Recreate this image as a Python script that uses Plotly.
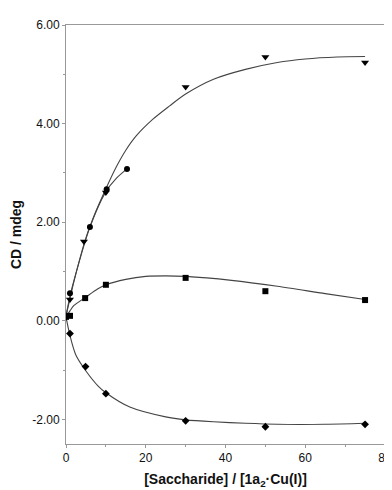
import plotly.graph_objects as go

# Measured points
tri_x = [0, 1, 4.5, 10, 30, 50, 75]
tri_y = [0.1, 0.43, 1.61, 2.6, 4.74, 5.35, 5.24]
cir_x = [0, 1, 6, 10.2, 15.3]
cir_y = [0.1, 0.56, 1.9, 2.67, 3.08]
sq_x = [0, 1, 4.8, 10, 30, 50, 75]
sq_y = [0.08, 0.1, 0.46, 0.73, 0.87, 0.6, 0.42]
dia_x = [0, 1, 4.9, 10, 30, 50, 75]
dia_y = [0.08, -0.26, -0.93, -1.48, -2.03, -2.15, -2.1]

# Fitted curves
tri_fit_x = [0, 1, 2, 5, 7.5, 10, 12.6, 15, 17.6, 21.8, 26, 30, 37, 45, 53, 60, 68, 75]
tri_fit_y = [0.1, 0.45, 0.8, 1.68, 2.22, 2.68, 3.12, 3.46, 3.75, 4.09, 4.36, 4.6, 4.9, 5.1, 5.24, 5.31, 5.35, 5.36]
cir_fit_x = [0, 1, 2, 6, 10, 12.5, 15.3]
cir_fit_y = [0.1, 0.5, 0.82, 1.9, 2.62, 2.88, 3.08]
sq_fit_x = [0, 1, 2, 4.8, 8, 10, 15, 20, 25, 30, 41.5, 53, 65, 75]
sq_fit_y = [0.08, 0.2, 0.31, 0.47, 0.65, 0.73, 0.84, 0.9, 0.91, 0.9, 0.82, 0.7, 0.55, 0.43]
dia_fit_x = [0, 1, 2.5, 5, 8, 10, 16, 25, 30, 37, 45, 53, 65, 75]
dia_fit_y = [0.08, -0.3, -0.7, -1.02, -1.32, -1.46, -1.75, -1.95, -2.01, -2.05, -2.08, -2.1, -2.1, -2.08]

x_tickvals = [0, 20, 40, 60, 80]
y_tickvals = [-2, 0, 2, 4, 6]

FONT = "Liberation Sans, Arial, sans-serif"
LINE = "#444444"

fig = go.Figure()
for fx, fy in [(tri_fit_x, tri_fit_y), (cir_fit_x, cir_fit_y), (sq_fit_x, sq_fit_y), (dia_fit_x, dia_fit_y)]:
    fig.add_trace(go.Scatter(x=fx, y=fy, mode="lines", line=dict(color=LINE, width=1.1, shape="spline", smoothing=0.8),
                             showlegend=False, hoverinfo="skip"))

for px, py, sym, sz in [(tri_x, tri_y, "triangle-down", 7), (cir_x, cir_y, "circle", 6),
                        (sq_x, sq_y, "square", 6), (dia_x, dia_y, "diamond", 6)]:
    fig.add_trace(go.Scatter(x=px, y=py, mode="markers",
                             marker=dict(symbol=sym, size=sz, color="black", line=dict(width=0)),
                             showlegend=False))

fig.update_layout(
    width=392, height=490,
    margin=dict(l=58, r=15, t=17, b=54),
    paper_bgcolor="white", plot_bgcolor="white",
    font=dict(family=FONT, size=12, color="#111111"),
)
fig.update_xaxes(range=[0, 80], tickvals=x_tickvals, ticktext=[str(v) for v in x_tickvals],
                 automargin=False,
                 showgrid=False, zeroline=False, showline=True, linecolor="#999999", linewidth=1, mirror=True,
                 ticks="outside", ticklen=3, tickcolor="#999999",
                 minor=dict(dtick=10, ticks="outside", ticklen=2, tickcolor="#999999"),
                 title=dict(text="<b>[Saccharide] / [1a<sub>2</sub>·Cu(I)]</b>", font=dict(size=14, family=FONT), standoff=9))
fig.update_yaxes(range=[-2.5, 6], tickvals=y_tickvals, ticktext=["%.2f" % v for v in y_tickvals],
                 automargin=False,
                 showgrid=False, zeroline=False, showline=True, linecolor="#999999", linewidth=1, mirror=True,
                 ticks="outside", ticklen=3, tickcolor="#999999",
                 minor=dict(dtick=1, ticks="outside", ticklen=2, tickcolor="#999999"),
                 title=dict(text="<b>CD / mdeg</b>", font=dict(size=14, family=FONT), standoff=13))

fig.write_html("out.html")
